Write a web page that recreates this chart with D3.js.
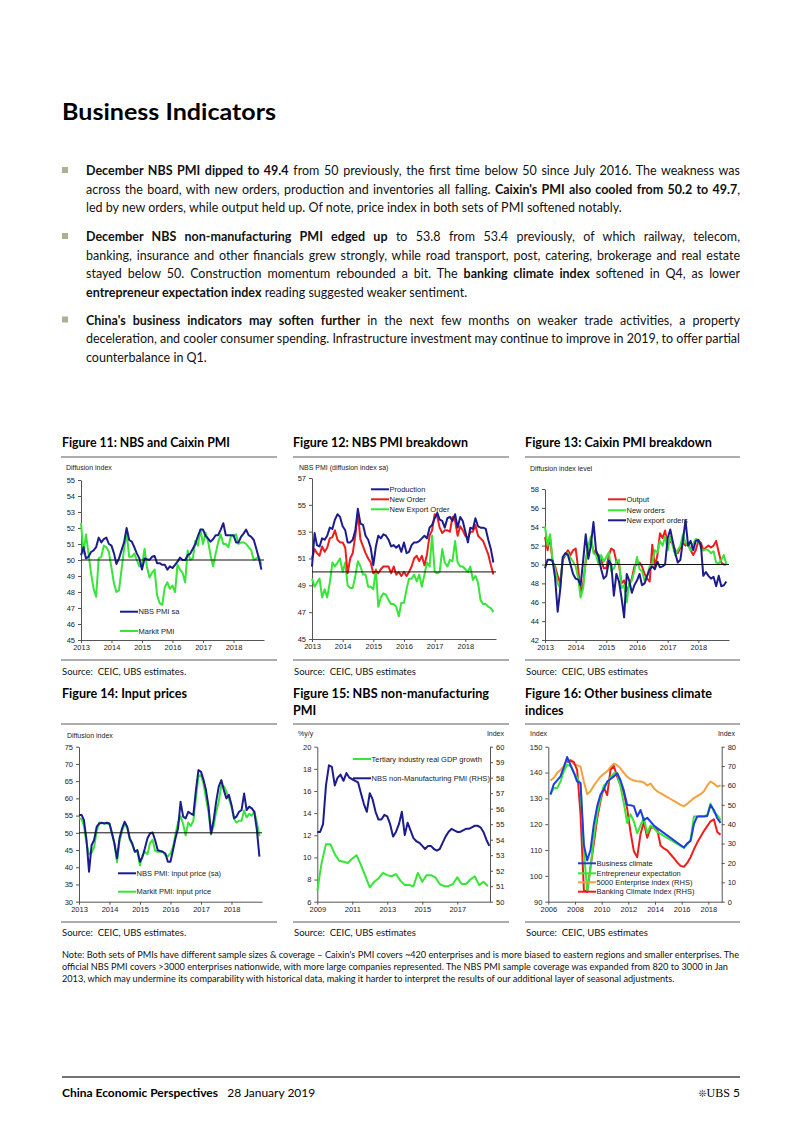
<!DOCTYPE html>
<html>
<head>
<meta charset="utf-8">
<script src="https://cdn.jsdelivr.net/npm/d3@7"></script>
<style>
  body { margin: 0; background: #fff; }
  svg { display: block; }
</style>
</head>
<body>
<div id="root"></div>
<script>
// ---------- data ----------
// Fig 11 (monthly, Jan 2013 - Dec 2018)
const nbsPmiSa = [50.3,50.8,50.1,50.2,50.5,50.6,50.8,51.4,51.1,51.3,51.4,51.0,
  50.9,50.4,49.75,50.1,50.6,51.1,52.0,51.25,51.15,50.8,50.4,50.1,
  49.4,50.1,50.05,50.0,50.2,50.25,49.8,49.8,49.7,49.7,49.4,49.6,
  49.5,49.7,49.9,50.15,50.0,50.0,50.3,50.4,50.7,51.0,51.5,51.9,
  51.9,51.5,51.35,51.15,51.3,51.55,51.55,51.9,52.3,51.55,51.55,51.55,
  51.55,51.1,51.1,51.45,51.65,51.9,51.55,51.45,51.25,50.7,50.1,49.4];
const markitPmi = [52.3,50.4,51.6,50.4,49.2,48.2,47.7,50.1,50.2,50.9,50.8,50.5,
  49.5,48.5,48.0,48.1,49.4,50.7,51.7,50.2,50.2,50.4,50.0,49.6,
  49.7,50.7,49.6,48.9,49.2,49.4,47.8,47.3,47.2,48.3,48.6,48.2,
  48.4,48.0,49.7,49.4,49.2,48.6,50.6,50.0,50.1,51.2,50.9,51.9,
  51.0,51.7,51.2,50.3,49.6,50.4,51.1,51.6,51.0,51.0,50.8,51.5,
  51.5,51.6,51.0,51.1,51.1,51.0,50.8,50.6,50.0,50.1,50.2,49.7];

// Fig 12
const nbsProduction = [50.4,52.9,52.0,51.9,52.5,52.4,52.7,53.3,53.2,53.9,54.3,54.1,
  53.4,53.1,52.2,52.2,52.4,53.1,54.7,53.6,53.5,52.7,52.4,51.8,
  50.5,51.9,52.7,52.5,52.8,52.7,52.4,51.9,52.0,51.8,52.0,51.5,
  52.2,51.4,51.5,52.0,52.2,52.2,52.3,52.5,52.7,52.5,53.3,53.5,
  54.0,54.4,53.9,53.8,53.3,54.0,54.1,53.8,54.3,53.3,54.1,53.8,
  53.0,52.2,53.3,53.2,54.0,53.4,53.3,53.3,53.2,52.4,51.7,50.7];
const nbsNewOrder = [51.0,51.7,51.4,51.2,51.9,51.5,51.8,52.5,52.6,53.1,52.4,52.2,
  52.2,51.8,49.9,51.0,51.4,52.7,54.4,52.4,51.9,51.4,51.0,50.7,
  49.9,50.1,49.9,50.2,50.4,50.4,50.4,49.9,50.4,49.8,50.0,49.7,
  50.0,49.7,50.0,50.4,51.0,51.2,50.8,51.2,50.5,51.3,52.7,53.1,
  54.3,54.1,53.3,52.9,53.1,53.1,53.0,54.1,53.8,52.7,53.4,53.1,
  52.7,52.5,53.0,53.0,53.5,52.7,52.5,52.3,51.8,51.3,50.5,49.8];
const nbsNewExportOrder = [49.5,48.9,49.2,49.5,48.1,48.7,48.1,49.2,50.7,50.4,50.7,51.0,
  50.0,50.7,49.0,48.8,48.8,49.7,50.8,50.4,49.8,49.8,48.9,48.9,
  48.7,50.2,47.4,48.1,48.4,48.3,47.9,47.6,47.6,47.4,46.7,47.7,
  47.7,48.7,49.5,49.5,49.8,49.3,49.8,48.9,49.8,50.7,50.4,52.7,
  50.0,49.9,50.0,51.7,50.7,50.4,50.9,50.8,52.3,50.7,50.4,50.4,
  50.2,50.0,50.4,49.4,49.7,49.2,47.9,47.6,47.6,47.4,47.3,47.0];

// Fig 13
const caixinOutput = [52.9,51.5,53.0,50.3,49.8,48.8,48.0,50.5,51.0,51.5,51.0,51.5,
  51.7,49.5,47.0,48.0,50.3,52.0,52.5,51.5,51.2,51.0,50.5,49.6,
  49.6,51.0,51.7,51.5,50.3,50.0,48.0,48.3,47.2,47.8,48.5,49.8,
  50.0,50.2,49.8,49.0,48.5,48.2,52.1,49.8,51.0,53.3,52.8,53.6,
  52.0,52.5,52.2,51.5,51.2,51.8,52.3,52.0,52.3,51.5,51.0,51.5,
  52.5,52.3,51.5,51.8,52.0,51.8,52.0,52.5,51.3,50.2,50.0,50.0];
const caixinNewOrders = [54.0,52.0,53.2,50.5,49.5,48.0,47.5,50.8,51.0,51.2,50.7,50.3,
  49.8,48.5,46.5,47.5,50.5,52.0,53.0,51.2,51.0,50.0,51.0,50.3,
  50.8,51.3,49.3,49.6,50.3,50.5,47.5,47.8,46.0,48.0,48.3,49.3,
  50.8,49.5,49.3,48.3,48.8,49.8,50.2,51.5,51.3,52.5,52.0,53.0,
  51.5,53.0,52.0,51.0,51.5,52.0,53.2,52.3,52.0,51.5,52.2,52.7,
  52.6,51.7,51.5,51.6,51.5,51.2,51.4,50.2,50.1,50.5,51.0,50.0];
const caixinExportOrders = [49.6,50.5,50.5,50.4,48.6,45.0,47.3,50.8,51.2,51.0,50.0,49.0,
  48.5,48.4,47.8,50.5,53.2,50.6,52.0,54.5,51.5,50.8,49.5,48.5,
  48.8,50.4,50.0,46.7,49.0,48.2,46.5,44.4,49.0,48.3,47.0,47.8,
  48.3,49.0,47.8,48.0,48.8,49.5,49.8,49.5,50.3,49.7,49.8,50.0,
  52.8,53.7,52.5,51.2,50.2,50.5,52.5,54.7,52.0,52.5,51.5,52.5,
  52.6,52.0,48.8,49.2,48.8,48.5,48.7,47.7,48.8,47.7,47.8,48.2];

// Fig 14
const nbsInputPrice = [55.2,55.2,53.7,47.9,38.7,46.4,47.9,51.8,52.7,52.9,52.7,52.9,
  52.7,49.8,46.9,42.6,48.4,51.3,53.2,51.8,48.4,46.9,44.5,45.0,
  41.6,43.1,45.5,48.4,49.8,50.1,47.9,45.0,44.7,44.5,44.0,41.6,
  41.6,45.0,48.4,51.3,59.0,54.7,54.2,56.1,55.6,55.2,62.4,68.2,
  67.7,65.3,62.4,57.6,49.8,53.7,59.0,63.4,65.3,62.4,60.0,61.0,
  58.1,54.2,54.7,56.1,56.6,61.4,56.6,57.6,57.1,56.1,50.8,43.1];
const markitInputPrice = [54.2,54.0,52.0,47.0,43.8,44.2,45.8,50.5,53.0,52.8,52.8,52.7,
  52.5,49.5,47.0,41.5,47.5,50.5,52.5,51.5,48.0,46.5,44.5,44.5,
  40.5,43.5,44.5,43.8,47.0,48.0,44.8,44.5,44.5,44.5,43.5,43.2,
  44.0,46.0,49.5,53.0,54.8,52.5,49.2,53.0,52.0,53.5,60.0,66.5,
  66.8,64.0,60.0,56.0,49.5,52.0,56.0,59.0,63.8,63.5,62.0,60.0,
  57.5,54.0,53.0,53.5,53.5,56.5,54.5,55.5,55.0,56.2,53.0,49.0];

// Fig 15: quarterly 2009Q1-2018Q4, every second month Jan 2009 - Nov 2018
const tertiaryGdp = [7.0,9.5,11.2,11.2,10.3,9.7,9.6,9.5,9.9,10.2,
  9.3,8.3,7.3,7.8,8.1,8.6,8.4,8.3,8.5,7.9,
  7.5,7.5,7.4,8.6,7.8,8.4,8.4,8.2,7.6,7.4,
  7.4,7.6,8.2,7.6,7.6,8.0,8.3,7.5,7.8,7.4];
const nonMfgPmi = [54.5,54.5,55.0,57.5,58.8,58.7,57.5,58.0,58.2,57.8,
  58.3,58.0,57.9,57.8,57.7,57.0,56.3,55.8,57.0,56.6,
  55.8,55.3,55.3,55.6,55.5,55.0,54.2,54.5,55.0,55.8,
  54.3,55.1,54.6,54.1,53.9,53.8,53.6,53.4,53.6,53.6,
  53.4,53.3,53.4,53.8,54.2,54.5,54.7,54.6,54.5,54.5,
  54.6,54.7,54.7,54.8,54.9,54.9,54.8,54.5,54.0,53.6];

// Fig 16: quarterly 2006Q1-2018Q4 (null = no reading)
const businessClimate = [131.5,135.5,137,138.5, 142,146,143,140, 136.5,136,112,106,
  110,120,127,131.5, 133.5,136.5,137.5,138.5, 139.7,137,133,127.4,
  127.3,127,123,125.5, 121.5,122.5,121,119.5, 118.5,null,null,null,
  null,null,null,null, 111,112.6,113.5,120, 123,123,123,123.2,
  127.4,125.5,122.3,120.5];
const entrepreneurExpectation = [131.5,134,134,136.5, 140.5,143,142.5,140, 138,135.5,110,94,
  103,115,124,130, 135,136,138,139.7, 139.7,134.5,128,120.5,
  123.8,121,116.5,119.5, 122.5,116.5,119.5,118.5, 117,null,null,null,
  null,null,null,null, 110.8,112.2,114,123, 123,123.2,123.2,123.5,
  128,124.8,123.5,121.5];
const enterprise5000 = [62.5,64,66.5,68, 70,72.5,73,71, 70.5,69.7,62,55.5,
  57,60,62.3,64.5, 66,67.3,69.5,71.2, 70.5,68.8,66.5,64.5,
  63.3,62.5,62.2,62, 61.5,60,61,58.5, 57,56,55,54,
  53,52,51,50, 49.3,50.5,52,53.5, 54.5,55.5,57,60,
  62,61,59.5,60];
const bankingClimate = [null,null,null,null, null,72,73,72, 68,45,6,5,
  18,30,43,52, 59,55,68,70, 64.5,60,56,48,
  36,26,23,35, 41,33,38,38.5, 37.5,29,27.5,26.5,
  24.5,22.5,20.3,18.5, 18,20,23,27, 30.5,33.5,36.5,39,
  41.5,42.5,36,34.5];

// tick labels
const yearsA = ['2013','2014','2015','2016','2017','2018'];
const yearsB = ['2009','2011','2013','2015','2017'];
const yearsC = ['2006','2008','2010','2012','2014','2016','2018'];
const ticks11 = [45,46,47,48,49,50,51,52,53,54,55];
const ticks12 = [45,47,49,51,53,55,57];
const ticks13 = [42,44,46,48,50,52,54,56,58];
const ticks14 = [30,35,40,45,50,55,60,65,70,75];
const ticks15L = [6,8,10,12,14,16,18,20];
const ticks15R = [50,51,52,53,54,55,56,57,58,59,60];
const ticks16L = [90,100,110,120,130,140,150];
const ticks16R = [0,10,20,30,40,50,60,70,80];

// dates
const months13 = d3.timeMonth.range(new Date(2013, 0, 1), new Date(2019, 0, 1));
const quarters09 = d3.timeMonth.every(3).range(new Date(2009, 0, 1), new Date(2019, 0, 1));
const bimonths09 = d3.timeMonth.every(2).range(new Date(2009, 0, 1), new Date(2019, 0, 1));
const quarters06 = d3.timeMonth.every(3).range(new Date(2006, 0, 1), new Date(2019, 0, 1))
  .map(d => d3.timeMonth.offset(d, 2));
const toDates = arr => arr.map(s => new Date(+s, 0, 1));

// colours
const navy = '#1c1c8e', green = '#36e636', red = '#f01c1c', orange = '#f2a23c', blue = '#1f3ce0';

// ---------- page ----------
const bodyFont = 'Lato, "Open Sans", sans-serif';
const chartFont = '"Liberation Sans", Arial, sans-serif';

const svg = d3.select('#root').append('svg')
  .attr('width', 802).attr('height', 1133)
  .style('font-family', bodyFont);
svg.append('rect').attr('width', 802).attr('height', 1133).attr('fill', '#fff');

const fitWidth = (t, w) => t.attr('textLength', w).attr('lengthAdjust', 'spacingAndGlyphs');

fitWidth(svg.append('text').attr('x', 62).attr('y', 120)
  .attr('font-size', 23).attr('font-weight', 700).attr('fill', '#000')
  .text('Business Indicators'), 214);

function addLine(x, y, segs, size, justify) {
  const t = svg.append('text').attr('x', x).attr('y', y)
    .attr('font-size', size).attr('fill', '#111').style('white-space', 'pre');
  segs.forEach(s => t.append('tspan').attr('font-weight', s[1] ? 700 : 400).text(s[0]));
  if (justify) {
    const w = t.node().getComputedTextLength();
    const n = (t.text().match(/ /g) || []).length;
    if (n) t.style('word-spacing', ((justify - w) / n) + 'px');
  }
  return t;
}

const paragraphs = [
  { y: 175, lines: [
    [['December NBS PMI dipped to 49.4', true], [' from 50 previously, the first time below 50 since July 2016. The weakness was', false]],
    [['across the board, with new orders, production and inventories all falling. ', false], ["Caixin's PMI also cooled from 50.2 to 49.7", true], [',', false]],
    [['led by new orders, while output held up. Of note, price index in both sets of PMI softened notably.', false]]
  ]},
  { y: 241, lines: [
    [['December NBS non-manufacturing PMI edged up', true], [' to 53.8 from 53.4 previously, of which railway, telecom,', false]],
    [['banking, insurance and other financials grew strongly, while road transport, post, catering, brokerage and real estate', false]],
    [['stayed below 50. Construction momentum rebounded a bit. The ', false], ['banking climate index', true], [' softened in Q4, as lower', false]],
    [['entrepreneur expectation index', true], [' reading suggested weaker sentiment.', false]]
  ]},
  { y: 324.5, lines: [
    [["China's business indicators may soften further", true], [' in the next few months on weaker trade activities, a property', false]],
    [['deceleration, and cooler consumer spending. Infrastructure investment may continue to improve in 2019, to offer partial', false]],
    [['counterbalance in Q1.', false]]
  ]}
];
paragraphs.forEach(p => {
  svg.append('rect').attr('x', 62).attr('y', p.y - 8).attr('width', 6).attr('height', 6).attr('fill', '#adb192');
  p.lines.forEach((segs, i) => {
    const last = i === p.lines.length - 1;
    addLine(86, p.y + i * 18.6, segs, 12.5, last ? null : 654);
  });
});

// figure titles, rules and sources
const titles = [
  { x: 62, lines: ['Figure 11: NBS and Caixin PMI'], w: [168] },
  { x: 293, lines: ['Figure 12: NBS PMI breakdown'], w: [175] },
  { x: 525, lines: ['Figure 13: Caixin PMI breakdown'], w: [187] },
];
const titles2 = [
  { x: 62, lines: ['Figure 14: Input prices'], w: [125] },
  { x: 293, lines: ['Figure 15: NBS non-manufacturing', 'PMI'], w: [196, null] },
  { x: 525, lines: ['Figure 16: Other business climate', 'indices'], w: [187, null] },
];
function drawTitles(list, y) {
  list.forEach(t => t.lines.forEach((s, i) => {
    const el = svg.append('text').attr('x', t.x).attr('y', y + i * 17)
      .attr('font-size', 12.5).attr('font-weight', 700).attr('fill', '#000').text(s);
    if (t.w[i]) fitWidth(el, t.w[i]);
  }));
}
drawTitles(titles, 446.5);
drawTitles(titles2, 697.5);

const panels = [[61, 277], [293, 509], [525, 740]];
function rule(x1, x2, y, w, c) {
  svg.append('line').attr('x1', x1).attr('x2', x2).attr('y1', y).attr('y2', y)
    .attr('stroke', c || '#5a5a5a').attr('stroke-width', w || 1);
}
panels.forEach(p => { rule(p[0], p[1], 457); rule(p[0], p[1], 660); rule(p[0], p[1], 724); rule(p[0], p[1], 922); });
const sources1 = ['Source:  CEIC, UBS estimates.', 'Source:  CEIC, UBS estimates', 'Source:  CEIC, UBS estimates'];
const sources2 = ['Source:  CEIC, UBS estimates.', 'Source:  CEIC, UBS estimates', 'Source:  CEIC, UBS estimates'];
panels.forEach((p, i) => {
  svg.append('text').attr('x', p[0] + 1).attr('y', 674.5).attr('font-size', 9.5).attr('fill', '#111')
    .style('white-space', 'pre').text(sources1[i]);
  svg.append('text').attr('x', p[0] + 1).attr('y', 935.5).attr('font-size', 9.5).attr('fill', '#111')
    .style('white-space', 'pre').text(sources2[i]);
});

// ---------- charts ----------
function styleAxis(sel) {
  sel.attr('font-family', chartFont).attr('font-size', 7.5);
  sel.select('.domain').attr('stroke', '#555');
  sel.selectAll('.tick line').attr('stroke', '#555');
  sel.selectAll('.tick text').attr('fill', '#222');
}

function drawSeries(g, dates, values, x, y, color, width) {
  const pts = dates.map((d, i) => [d, values[i]]).filter(p => p[1] != null);
  g.append('path').datum(pts)
    .attr('fill', 'none').attr('stroke', color).attr('stroke-width', width || 2)
    .attr('stroke-linejoin', 'round')
    .attr('d', d3.line().x(p => x(p[0])).y(p => y(p[1])));
}

function drawChart(c) {
  const g = svg.append('g');
  const x = d3.scaleTime().domain(c.xDomain).range(c.xRange);
  const y = d3.scaleLinear().domain(c.yDomain).range(c.yRange);
  const yR = c.yRDomain ? d3.scaleLinear().domain(c.yRDomain).range(c.yRange) : null;

  g.append('g').attr('transform', `translate(${c.xRange[0]},0)`)
    .call(d3.axisLeft(y).tickValues(c.yTicks).tickSize(3).tickSizeOuter(0).tickPadding(3))
    .call(styleAxis);
  if (yR) {
    g.append('g').attr('transform', `translate(${c.xRange[1]},0)`)
      .call(d3.axisRight(yR).tickValues(c.yRTicks).tickSize(3).tickSizeOuter(0).tickPadding(3))
      .call(styleAxis);
  }
  g.append('g').attr('transform', `translate(0,${c.yRange[0]})`)
    .call(d3.axisBottom(x).tickValues(toDates(c.xTicks)).tickFormat(d3.timeFormat('%Y'))
      .tickSize(3).tickSizeOuter(0).tickPadding(2))
    .call(styleAxis);

  c.series.forEach(s => drawSeries(g, s.dates, s.values, x, s.right ? yR : y, s.color, s.width));

  if (c.ref != null) {
    g.append('line').attr('x1', c.xRange[0]).attr('x2', c.refEnd || c.xRange[1])
      .attr('y1', y(c.ref)).attr('y2', y(c.ref)).attr('stroke', '#111').attr('stroke-width', 1);
  }

  c.units.forEach(u => g.append('text').attr('x', u.x).attr('y', u.y)
    .attr('text-anchor', u.anchor || 'start')
    .attr('font-family', chartFont).attr('font-size', 7).attr('fill', '#222').text(u.text));

  c.legend.items.forEach((it, i) => {
    const ly = c.legend.ys[i];
    g.append('line').attr('x1', c.legend.x).attr('x2', c.legend.x + 18).attr('y1', ly).attr('y2', ly)
      .attr('stroke', it.color).attr('stroke-width', 2);
    g.append('text').attr('x', c.legend.x + 18.5).attr('y', ly + 2.6)
      .attr('font-family', chartFont).attr('font-size', 7.5).attr('fill', '#222').text(it.label);
  });
}

// Figure 11
drawChart({
  xDomain: [new Date(2013, 0, 1), new Date(2019, 0, 1)], xRange: [81, 264],
  yDomain: [45, 55], yRange: [640, 480], yTicks: ticks11, xTicks: yearsA, ref: 50,
  units: [{ text: 'Diffusion index', x: 66, y: 470 }],
  series: [
    { dates: months13, values: markitPmi, color: green },
    { dates: months13, values: nbsPmiSa, color: navy }
  ],
  legend: { x: 120, ys: [611.7, 631], items: [{ label: 'NBS PMI sa', color: navy }, { label: 'Markit PMI', color: green }] }
});

// Figure 12
drawChart({
  xDomain: [new Date(2013, 0, 1), new Date(2019, 0, 1)], xRange: [312, 496],
  yDomain: [45, 57], yRange: [639, 478], yTicks: ticks12, xTicks: yearsA, ref: 50,
  units: [{ text: 'NBS PMI (diffusion index sa)', x: 299, y: 470 }],
  series: [
    { dates: months13, values: nbsNewExportOrder, color: green },
    { dates: months13, values: nbsNewOrder, color: red },
    { dates: months13, values: nbsProduction, color: navy }
  ],
  legend: { x: 371, ys: [489.3, 499.3, 509.3], items: [
    { label: 'Production', color: navy }, { label: 'New Order', color: red }, { label: 'New Export Order', color: green }] }
});

// Figure 13
drawChart({
  xDomain: [new Date(2013, 0, 1), new Date(2019, 0, 1)], xRange: [545, 729],
  yDomain: [42, 58], yRange: [640, 489], yTicks: ticks13, xTicks: yearsA, ref: 50,
  units: [{ text: 'Diffusion index level', x: 530, y: 471 }],
  series: [
    { dates: months13, values: caixinOutput, color: red },
    { dates: months13, values: caixinNewOrders, color: green },
    { dates: months13, values: caixinExportOrders, color: navy }
  ],
  legend: { x: 608, ys: [499.3, 510.3, 520.3], items: [
    { label: 'Output', color: red }, { label: 'New orders', color: green }, { label: 'New export orders', color: navy }] }
});

// Figure 14
drawChart({
  xDomain: [new Date(2013, 0, 1), new Date(2019, 0, 1)], xRange: [79, 262],
  yDomain: [30, 75], yRange: [901.7, 746.7], yTicks: ticks14, xTicks: yearsA, ref: 50,
  units: [{ text: 'Diffusion index', x: 67, y: 737.5 }],
  series: [
    { dates: months13, values: markitInputPrice, color: green },
    { dates: months13, values: nbsInputPrice, color: navy }
  ],
  legend: { x: 118, ys: [873.3, 891.7], items: [
    { label: 'NBS PMI: input price (sa)', color: navy }, { label: 'Markit PMI: input price', color: green }] }
});

// Figure 15
drawChart({
  xDomain: [new Date(2009, 0, 1), new Date(2018, 10, 15)], xRange: [317.3, 490],
  yDomain: [6, 20], yRange: [901.7, 746.7], yTicks: ticks15L,
  yRDomain: [50, 60], yRTicks: ticks15R, xTicks: yearsB,
  units: [{ text: '%y/y', x: 298, y: 735.5 }, { text: 'Index', x: 504, y: 735.5, anchor: 'end' }],
  series: [
    { dates: quarters09, values: tertiaryGdp, color: green, width: 2 },
    { dates: bimonths09, values: nonMfgPmi, color: navy, width: 2, right: true }
  ],
  legend: { x: 353, ys: [759, 778.3], items: [
    { label: 'Tertiary industry real GDP growth', color: green }, { label: 'NBS non-Manufacturing PMI (RHS)', color: navy }] }
});

// Figure 16
drawChart({
  xDomain: [new Date(2006, 0, 1), new Date(2019, 0, 1)], xRange: [548.3, 721.7],
  yDomain: [90, 150], yRange: [901.7, 746.7], yTicks: ticks16L,
  yRDomain: [0, 80], yRTicks: ticks16R, xTicks: yearsC,
  units: [{ text: 'Index', x: 530, y: 735.5 }, { text: 'Index', x: 735, y: 735.5, anchor: 'end' }],
  series: [
    { dates: quarters06, values: enterprise5000, color: orange, width: 2, right: true },
    { dates: quarters06, values: bankingClimate, color: red, width: 2, right: true },
    { dates: quarters06, values: entrepreneurExpectation, color: green, width: 2 },
    { dates: quarters06, values: businessClimate, color: blue, width: 2 }
  ],
  legend: { x: 578, ys: [863.3, 873.3, 882.3, 891.7], items: [
    { label: 'Business climate', color: blue }, { label: 'Entrepreneur expectation', color: green },
    { label: '5000 Enterprise index (RHS)', color: orange }, { label: 'Banking Climate Index (RHS)', color: red }] }
});

// ---------- note and footer ----------
const noteLines = [
  "Note: Both sets of PMIs have different sample sizes & coverage \u2013 Caixin's PMI covers ~420 enterprises and is more biased to eastern regions and smaller enterprises. The",
  'official NBS PMI covers >3000 enterprises nationwide, with more large companies represented. The NBS PMI sample coverage was expanded from 820 to 3000 in Jan',
  '2013, which may undermine its comparability with historical data, making it harder to interpret the results of our additional layer of seasonal adjustments.'
];
const probe = svg.append('text').attr('font-size', 10).text(noteLines[0]);
const noteSize = 10 * 678 / probe.node().getComputedTextLength();
probe.remove();
noteLines.forEach((s, i) => svg.append('text').attr('x', 62).attr('y', 957.5 + i * 12)
  .attr('font-size', noteSize).attr('fill', '#111').text(s));

rule(62, 740, 1077, 1.3, '#444');
svg.append('text').attr('x', 62).attr('y', 1097).attr('font-size', 12).attr('fill', '#000')
  .style('white-space', 'pre')
  .call(t => {
    t.append('tspan').attr('font-weight', 700).text('China Economic Perspectives');
    t.append('tspan').attr('font-weight', 400).text('   28 January 2019');
  });
svg.append('text').attr('x', 740).attr('y', 1097).attr('text-anchor', 'end')
  .attr('font-size', 12).attr('fill', '#000').style('white-space', 'pre')
  .call(t => {
    t.append('tspan').attr('font-family', '"DejaVu Sans", sans-serif').attr('font-size', 10).attr('fill', '#333').text('\u274A');
    t.append('tspan').attr('font-family', '"Liberation Serif", serif').text('UBS');
    t.append('tspan').text(' 5');
  });
</script>
</body>
</html>
